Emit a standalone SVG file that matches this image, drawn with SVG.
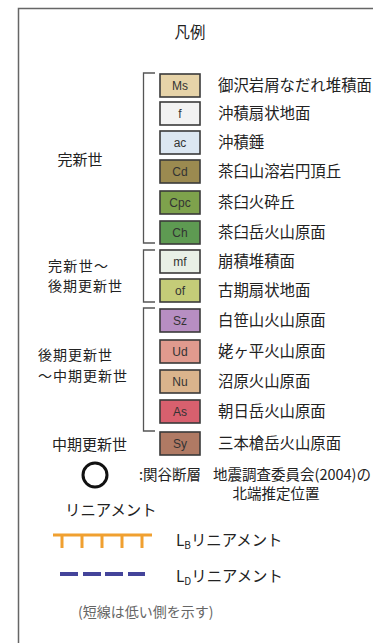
<svg xmlns="http://www.w3.org/2000/svg" width="373" height="643" viewBox="0 0 373 643">
<style>
text{font-family:"Noto Sans CJK JP","Noto Sans CJK SC",sans-serif;fill:#222;}
.lbl{font-size:15.4px;}
.era{font-size:15px;}
.era2{font-size:14px;}
.box{stroke:#3a3a3a;stroke-width:1.6;}
.code{font-family:"Liberation Sans Narrow","Liberation Sans",sans-serif;font-size:12px;fill:#333;text-anchor:middle;}
.br{fill:none;stroke:#555;stroke-width:1.3;}
</style>
<rect x="0" y="0" width="373" height="643" fill="#fff"/>
<path d="M18.5 643 V8.5 H373" fill="none" stroke="#666" stroke-width="1.5"/>
<text x="190" y="38" class="lbl" text-anchor="middle">凡例</text>
<g id="brackets">
<path class="br" d="M155 73 H143.5 V243 H155"/>
<path class="br" d="M155 250 H143.5 V302 H155"/>
<path class="br" d="M155 308 H143.5 V431 H155"/>
</g>
<g id="eras">
<text x="80" y="165" class="era" text-anchor="middle">完新世</text>
<text x="48" y="270.5" class="era2" textLength="60">完新世～</text>
<text x="48" y="291" class="era2" textLength="74">後期更新世</text>
<text x="38" y="360" class="era2" textLength="74">後期更新世</text>
<text x="38" y="380.5" class="era2" textLength="89">～中期更新世</text>
<text x="52" y="450" class="era">中期更新世</text>
</g>
<g id="Ms"><rect class="box" x="160" y="74" width="40" height="23" fill="#e6d3a8"/><text class="code" x="180" y="89.5">Ms</text><text class="lbl" x="218" y="91">御沢岩屑なだれ堆積面</text></g>
<g id="f"><rect class="box" x="160" y="102" width="40" height="23" fill="#f2f2f2"/><text class="code" x="180" y="117.5">f</text><text class="lbl" x="218" y="119">沖積扇状地面</text></g>
<g id="ac"><rect class="box" x="160" y="131" width="40" height="23" fill="#dce7f2"/><text class="code" x="180" y="146.5">ac</text><text class="lbl" x="218" y="148">沖積錘</text></g>
<g id="Cd"><rect class="box" x="160" y="160" width="40" height="23" fill="#9b8a50"/><text class="code" x="180" y="175.5">Cd</text><text class="lbl" x="218" y="177">茶臼山溶岩円頂丘</text></g>
<g id="Cpc"><rect class="box" x="160" y="191" width="40" height="23" fill="#7ea24c"/><text class="code" x="180" y="206.5">Cpc</text><text class="lbl" x="218" y="208">茶臼火砕丘</text></g>
<g id="Ch"><rect class="box" x="160" y="221" width="40" height="23" fill="#5e9a52"/><text class="code" x="180" y="236.5">Ch</text><text class="lbl" x="218" y="238">茶臼岳火山原面</text></g>
<g id="mf"><rect class="box" x="160" y="250" width="40" height="23" fill="#e8f0e6"/><text class="code" x="180" y="265.5">mf</text><text class="lbl" x="218" y="267">崩積堆積面</text></g>
<g id="of"><rect class="box" x="160" y="279" width="40" height="23" fill="#c4cc78"/><text class="code" x="180" y="294.5">of</text><text class="lbl" x="218" y="296">古期扇状地面</text></g>
<g id="Sz"><rect class="box" x="160" y="309" width="40" height="23" fill="#b78ec2"/><text class="code" x="180" y="324.5">Sz</text><text class="lbl" x="218" y="326">白笹山火山原面</text></g>
<g id="Ud"><rect class="box" x="160" y="340" width="40" height="23" fill="#e09a8e"/><text class="code" x="180" y="355.5">Ud</text><text class="lbl" x="218" y="357">姥ヶ平火山原面</text></g>
<g id="Nu"><rect class="box" x="160" y="370" width="40" height="23" fill="#dab48c"/><text class="code" x="180" y="385.5">Nu</text><text class="lbl" x="218" y="387">沼原火山原面</text></g>
<g id="As"><rect class="box" x="160" y="400" width="40" height="23" fill="#d8606e"/><text class="code" x="180" y="415.5">As</text><text class="lbl" x="218" y="417">朝日岳火山原面</text></g>
<g id="Sy"><rect class="box" x="160" y="432" width="40" height="23" fill="#b07a64"/><text class="code" x="180" y="447.5">Sy</text><text class="lbl" x="218" y="449">三本槍岳火山原面</text></g>
<g id="fault">
<circle cx="95" cy="475" r="12" fill="none" stroke="#111" stroke-width="3"/>
<text x="139" y="480" style="font-size:14.5px">:関谷断層</text>
<text x="213" y="480" style="font-size:14.5px">地震調査委員会(2004)の</text>
<text x="276" y="499" style="font-size:14.5px" text-anchor="middle">北端推定位置</text>
</g>
<text x="65" y="516" class="lbl">リニアメント</text>
<g id="LB">
<path d="M53 535 H152 M62 535 V548 M82 535 V548 M102 535 V548 M122 535 V548 M142 535 V548" stroke="#f0a030" stroke-width="3" fill="none"/>
<text x="176" y="546" class="lbl">L<tspan style="font-size:10px" dy="3">B</tspan><tspan dy="-3">リニアメント</tspan></text>
</g>
<g id="LD">
<path d="M60 574 H78 M83 574 H101 M105 574 H123 M128 574 H145" stroke="#44449a" stroke-width="4" fill="none"/>
<text x="176" y="582" class="lbl">L<tspan style="font-size:10px" dy="3">D</tspan><tspan dy="-3">リニアメント</tspan></text>
</g>
<text x="78" y="617" style="font-size:14px;fill:#666">(短線は低い側を示す)</text>
</svg>
